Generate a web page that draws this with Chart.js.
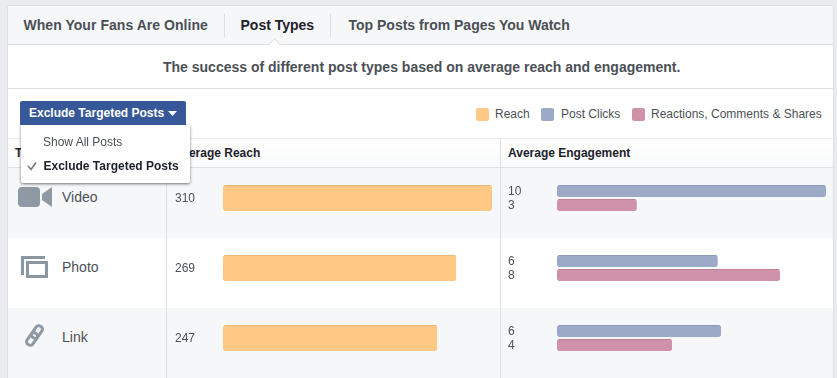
<!DOCTYPE html>
<html>
<head>
<meta charset="utf-8">
<script src="https://cdn.jsdelivr.net/npm/chart.js@4"></script>
<style>
html, body { margin: 0; padding: 0; }
body { width: 837px; height: 378px; overflow: hidden; position: relative; background: #e9ebee; font-family: "Liberation Sans", Arial, sans-serif; color: #4b4f56; }
.box { position: absolute; }
.txt { position: absolute; white-space: nowrap; }
canvas { position: absolute; }
.swatch { position: absolute; width: 13px; height: 13px; border-radius: 2px; top: 108px; }
</style>
</head>
<body>
<div class="box" style="left:7px;top:5px;width:825px;height:373px;background:#fff;border:1px solid #dddfe2;border-bottom:0;border-radius:2px 2px 0 0"></div>

<!-- tabs -->
<div class="box" style="left:8px;top:6px;width:825px;height:38px;background:#f6f7f9;border-bottom:1px solid #dddfe2"></div>
<div class="txt" style="left:23.5px;top:17px;font-size:14px;font-weight:bold;letter-spacing:.04px">When Your Fans Are Online</div>
<div class="box" style="left:224px;top:14px;width:1px;height:23px;background:#dddfe2"></div>
<div class="txt" style="left:240.5px;top:17px;font-size:14px;font-weight:bold;color:#1d2129">Post Types</div>
<div class="box" style="left:330px;top:14px;width:1px;height:23px;background:#dddfe2"></div>
<div class="txt" style="left:348.5px;top:17px;font-size:14px;font-weight:bold">Top Posts from Pages You Watch</div>
<div class="box" style="left:270px;top:40px;width:8px;height:8px;background:#fff;border-left:1px solid #dddfe2;border-top:1px solid #dddfe2;transform:rotate(45deg)"></div>

<!-- subtitle -->
<div class="txt" style="left:163px;top:59px;font-size:14px;font-weight:bold">The success of different post types based on average reach and engagement.</div>
<div class="box" style="left:8px;top:88px;width:825px;height:1px;background:#dddfe2"></div>

<!-- legend -->
<div class="swatch" style="left:476px;background:#ffc985"></div>
<div class="txt" style="left:495px;top:107px;font-size:12px">Reach</div>
<div class="swatch" style="left:541px;background:#9caac8"></div>
<div class="txt" style="left:561px;top:107px;font-size:12px">Post Clicks</div>
<div class="swatch" style="left:632px;background:#cf92a8"></div>
<div class="txt" style="left:651px;top:107px;font-size:12px">Reactions, Comments &amp; Shares</div>

<!-- table head -->
<div class="box" style="left:8px;top:138px;width:825px;height:30px;background:linear-gradient(#fff,#f9fafb);border-top:1px solid #e9ebee;border-bottom:1px solid #dddfe2;box-sizing:border-box"></div>
<div class="txt" style="left:15px;top:146px;font-size:12px;font-weight:bold;color:#1d2129">Type</div>
<div class="txt" style="left:174px;top:146px;font-size:12px;font-weight:bold;color:#1d2129">Average Reach</div>
<div class="txt" style="left:508px;top:146px;font-size:12px;font-weight:bold;color:#1d2129">Average Engagement</div>

<!-- rows -->
<div class="box" style="left:8px;top:168px;width:825px;height:70px;background:#f6f7f9"></div>
<div class="box" style="left:8px;top:308px;width:825px;height:70px;background:#f6f7f9"></div>
<div class="box" style="left:166px;top:138px;width:1px;height:240px;background:#dddfe2"></div>
<div class="box" style="left:500px;top:138px;width:1px;height:240px;background:#dddfe2"></div>

<div class="txt" style="left:62px;top:189px;font-size:14px;color:#4b4f56">Video</div>
<div class="txt" style="left:62px;top:259px;font-size:14px;color:#4b4f56">Photo</div>
<div class="txt" style="left:62px;top:329px;font-size:14px;color:#4b4f56">Link</div>

<svg class="box" style="left:0;top:0" width="837" height="378">
  <rect x="18" y="187" width="22" height="20" rx="4" fill="#8f99a3"/>
  <path d="M42 194 L52 187 V207 L42 200 Z" fill="#8f99a3"/>
  <path d="M21 256 H45 V259 H24 V275 H21 Z M26 261 H48 V278 H26 Z M29 264 V275 H45 V264 Z" fill="#8a96a0" fill-rule="evenodd"/>
  <g fill="none" stroke="#8f99a3" stroke-width="3" transform="rotate(-55 34.5 335.5)">
    <rect x="23.5" y="332" width="13.500" height="7" rx="3"/>
    <rect x="32" y="332" width="13.500" height="7" rx="3"/>
  </g>
</svg>

<canvas id="chart-reach" width="317" height="210" style="left:175px;top:163px"></canvas>
<canvas id="chart-engagement" width="318" height="210" style="left:508px;top:163px"></canvas>

<!-- dropdown -->
<div class="box" style="left:21px;top:125px;width:169px;height:58px;background:#fff;border-radius:0 0 2px 2px;box-shadow:0 1px 3px rgba(0,0,0,.55)"></div>
<div class="box" style="left:20px;top:101px;width:166px;height:24px;background:#365899;border-radius:2px 2px 0 0"></div>
<div class="txt" style="left:29px;top:106px;font-size:12px;font-weight:bold;color:#fff">Exclude Targeted Posts</div>
<svg class="box" style="left:168px;top:111px" width="10" height="6"><path d="M0 0 H9 L4.5 5 Z" fill="#fff"/></svg>
<div class="txt" style="left:43px;top:135px;font-size:12px;color:#4b4f56">Show All Posts</div>
<div class="txt" style="left:43.5px;top:159px;font-size:12px;font-weight:bold;color:#1d2129">Exclude Targeted Posts</div>
<svg class="box" style="left:27px;top:161px" width="10" height="10"><path d="M1 5 L4 8.5 L9 1.5" fill="none" stroke="#777" stroke-width="1.6"/></svg>

<script>
var types = ["Video", "Photo", "Link"];
var reach = [310, 269, 247];
var postClicks = [10, 5.98, 6.1];
var reactions = [2.97, 8.29, 4.28];
var reachLabels = ["310", "269", "247"];
var engagementLabels = [["10", "3"], ["6", "8"], ["6", "4"]];

var reachColor = "#ffc985";
var clicksColor = "#9caac8";
var reactionsColor = "#cf92a8";

function chartOptions(maxValue, axisWidth, lineHeight) {
    return {
        indexAxis: "y",
        responsive: false,
        animation: false,
        layout: { padding: 0 },
        plugins: { legend: { display: false }, tooltip: { enabled: false } },
        scales: {
            x: { display: false, min: 0, max: maxValue },
            y: {
                grid: { display: false },
                border: { display: false },
                afterFit: function(axis) {
                    axis.width = axisWidth;
                    // no room kept for the tick labels, the rows must stay 70px
                    axis.paddingTop = 0;
                    axis.paddingBottom = 0;
                },
                ticks: {
                    crossAlign: "far",
                    padding: 0,
                    labelOffset: 1,
                    color: "#4b4f56",
                    font: { family: "'Liberation Sans', Arial, sans-serif", size: 12, lineHeight: lineHeight }
                }
            }
        }
    };
}

// each label on the axis is the number printed next to the bars
new Chart(document.getElementById("chart-reach"), {
    type: "bar",
    data: {
        labels: reachLabels,
        datasets: [{
            label: "Reach",
            data: reach,
            backgroundColor: reachColor,
            borderColor: "#eab676",
            borderWidth: { top: 1, left: 0, right: 0, bottom: 0 },
            borderRadius: 2,
            borderSkipped: false,
            categoryPercentage: 26 / 70,
            barPercentage: 1
        }]
    },
    options: chartOptions(310, 48, 1.2)
});

new Chart(document.getElementById("chart-engagement"), {
    type: "bar",
    data: {
        labels: engagementLabels,
        datasets: [{
            label: "Post Clicks",
            data: postClicks,
            backgroundColor: clicksColor,
            borderColor: "#8c9ab8",
            borderWidth: { top: 1, left: 0, right: 0, bottom: 0 },
            borderRadius: 2,
            borderSkipped: false,
            categoryPercentage: 28 / 70,
            barPercentage: 12 / 14
        }, {
            label: "Reactions, Comments & Shares",
            data: reactions,
            backgroundColor: reactionsColor,
            borderColor: "#bd8298",
            borderWidth: { top: 1, left: 0, right: 0, bottom: 0 },
            borderRadius: 2,
            borderSkipped: false,
            categoryPercentage: 28 / 70,
            barPercentage: 12 / 14
        }]
    },
    options: chartOptions(10, 49, 14 / 12)
});
</script>
</body>
</html>
